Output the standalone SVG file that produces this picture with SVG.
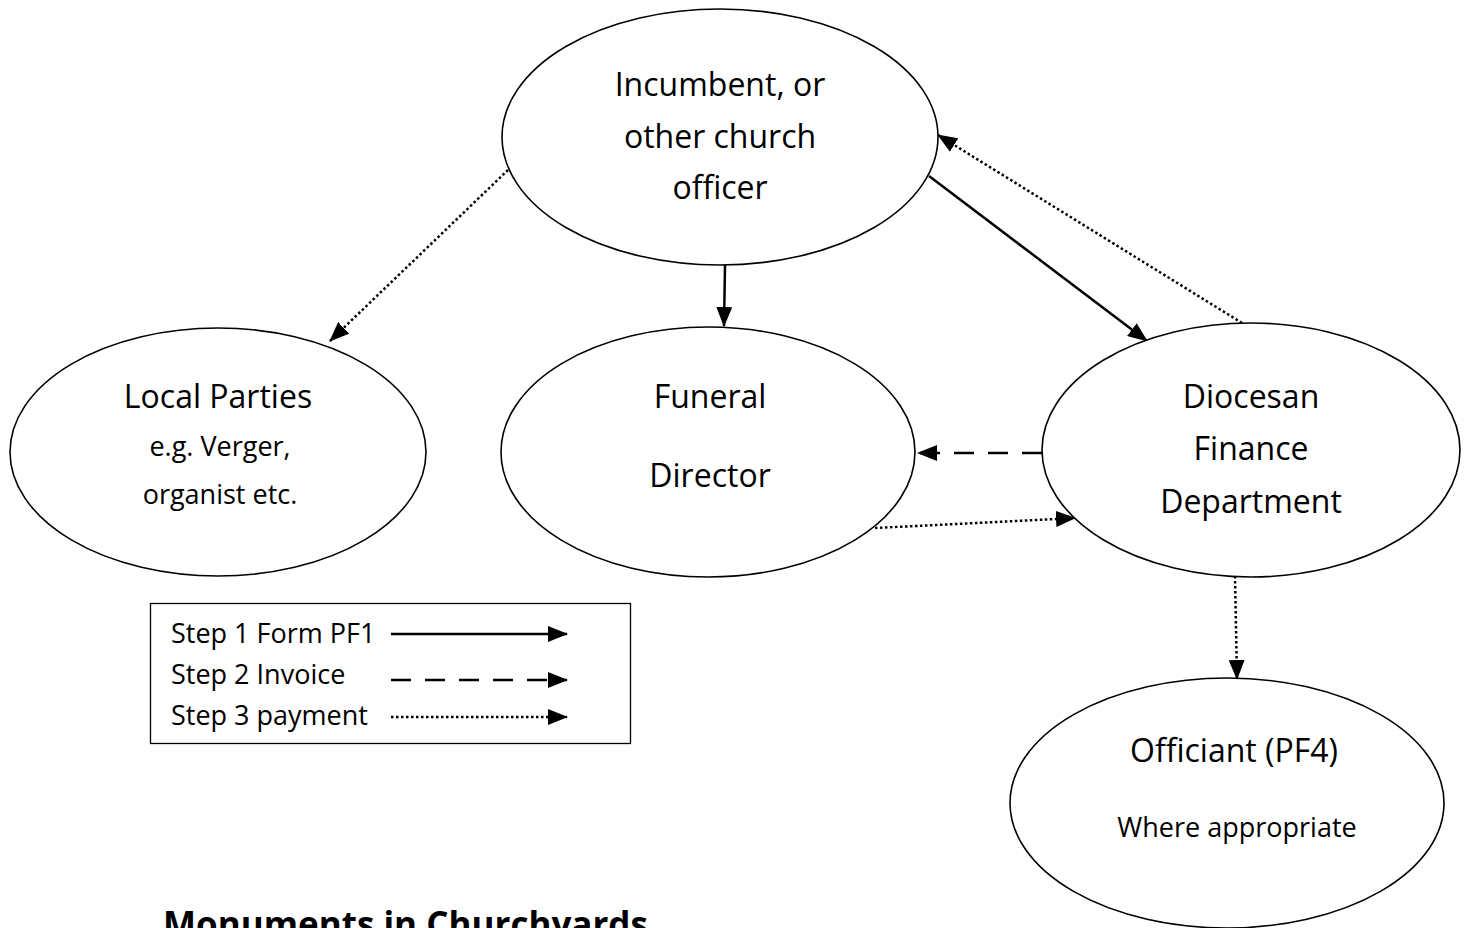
<svg xmlns="http://www.w3.org/2000/svg" width="1467" height="928" viewBox="0 0 1467 928">
<defs>
<style>
.node{fill:#fff;stroke:#000;stroke-width:1.6}
.t{font-family:"Open Sans","Noto Sans",sans-serif;font-size:32px;fill:#000;text-anchor:middle}
.s{font-size:27px}
.lg{font-family:"Open Sans","Noto Sans",sans-serif;font-size:27px;fill:#000}
.c{fill:none;stroke:#000;stroke-width:2.5}
.dot{stroke-dasharray:2.5 2.5}
.dash{stroke-dasharray:20 14}
</style>
<marker id="ah" markerUnits="userSpaceOnUse" markerWidth="20" markerHeight="16" viewBox="0 0 20 16" refX="19" refY="8" orient="auto">
<path d="M0,0 L20,8 L0,16 Z" fill="#000"/>
</marker>
</defs>
<rect width="1467" height="928" fill="#fff"/>
<g id="connectors">
<line class="c dot" x1="508" y1="170" x2="330" y2="341" marker-end="url(#ah)"/>
<line class="c" x1="725" y1="265" x2="724" y2="326" marker-end="url(#ah)"/>
<line class="c" x1="929" y1="176" x2="1147" y2="341" marker-end="url(#ah)"/>
<line class="c dot" x1="1242" y1="323" x2="938" y2="135" marker-end="url(#ah)"/>
<line class="c dash" x1="1042" y1="453" x2="918" y2="453" marker-end="url(#ah)"/>
<line class="c dot" x1="875" y1="528" x2="1075" y2="518" marker-end="url(#ah)"/>
<line class="c dot" x1="1235" y1="576" x2="1237" y2="679" marker-end="url(#ah)"/>
</g>
<g id="incumbent">
<ellipse class="node" cx="720" cy="137" rx="218" ry="128"/>
<text class="t" x="720" y="96">Incumbent, or</text>
<text class="t" x="720" y="148">other church</text>
<text class="t" x="720" y="199">officer</text>
</g>
<g id="local-parties">
<ellipse class="node" cx="218" cy="452" rx="208" ry="124"/>
<text class="t" x="218" y="408">Local Parties</text>
<text class="t s" x="220" y="456">e.g. Verger,</text>
<text class="t s" x="220" y="504">organist etc.</text>
</g>
<g id="funeral-director">
<ellipse class="node" cx="708" cy="452" rx="207" ry="125"/>
<text class="t" x="710" y="408">Funeral</text>
<text class="t" x="710" y="487">Director</text>
</g>
<g id="diocesan-finance">
<ellipse class="node" cx="1251" cy="450" rx="209" ry="127"/>
<text class="t" x="1251" y="408">Diocesan</text>
<text class="t" x="1251" y="460">Finance</text>
<text class="t" x="1251" y="513">Department</text>
</g>
<g id="officiant">
<ellipse class="node" cx="1227" cy="803" rx="217" ry="125"/>
<text class="t" x="1234" y="762">Officiant (PF4)</text>
<text class="t s" x="1237" y="837">Where appropriate</text>
</g>
<g id="legend">
<rect x="150.5" y="603.5" width="480" height="140" fill="#fff" stroke="#000" stroke-width="1.3"/>
<text class="lg" x="171" y="643">Step 1 Form PF1</text>
<text class="lg" x="171" y="684">Step 2 Invoice</text>
<text class="lg" x="171" y="725">Step 3 payment</text>
<line class="c" x1="391" y1="634" x2="567" y2="634" marker-end="url(#ah)"/>
<line class="c dash" x1="391" y1="680" x2="567" y2="680" marker-end="url(#ah)"/>
<line class="c dot" x1="391" y1="717" x2="567" y2="717" marker-end="url(#ah)"/>
</g>
<text x="163" y="937" font-family="Open Sans, Noto Sans, sans-serif" font-weight="bold" font-size="35" fill="#000">Monuments in Churchyards</text>
</svg>
